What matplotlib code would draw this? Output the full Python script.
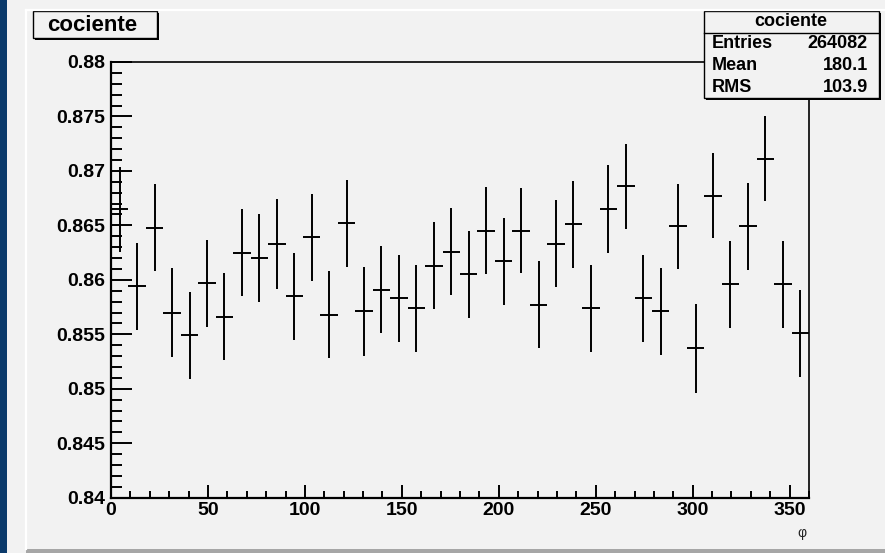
import matplotlib
matplotlib.use('Agg')
import matplotlib.pyplot as plt
import numpy as np
from matplotlib.patches import Rectangle
from matplotlib.lines import Line2D
from matplotlib.ticker import MultipleLocator, FixedLocator, FixedFormatter

plt.rcParams['font.family'] = ['Liberation Sans', 'DejaVu Sans']

# histogram "cociente": 40 bins of 9 degrees in phi
bin_edges = np.arange(0, 361, 9)
cociente = [0.8665, 0.8594, 0.8648, 0.8570, 0.8549, 0.8597, 0.8566, 0.8625, 0.8620, 0.8633,
            0.8585, 0.8639, 0.8568, 0.8652, 0.8571, 0.8591, 0.8583, 0.8574, 0.8613, 0.8626,
            0.8605, 0.8645, 0.8617, 0.8645, 0.8577, 0.8633, 0.8651, 0.8574, 0.8665, 0.8686,
            0.8583, 0.8571, 0.8649, 0.8537, 0.8677, 0.8596, 0.8649, 0.8711, 0.8596, 0.8551]
errores = [0.0039, 0.0040, 0.0040, 0.0041, 0.0040, 0.0040, 0.0040, 0.0040, 0.0040, 0.0041,
           0.0040, 0.0040, 0.0040, 0.0040, 0.0041, 0.0040, 0.0040, 0.0040, 0.0040, 0.0040,
           0.0040, 0.0040, 0.0040, 0.0039, 0.0040, 0.0040, 0.0040, 0.0040, 0.0040, 0.0039,
           0.0040, 0.0040, 0.0039, 0.0041, 0.0039, 0.0040, 0.0040, 0.0039, 0.0040, 0.0040]

ytick_vals = [0.84, 0.845, 0.85, 0.855, 0.86, 0.865, 0.87, 0.875, 0.88]
ytick_labels = ['0.84', '0.845', '0.85', '0.855', '0.86', '0.865', '0.87', '0.875', '0.88']
xtick_vals = [0, 50, 100, 150, 200, 250, 300, 350]
xtick_labels = ['0', '50', '100', '150', '200', '250', '300', '350']

stats_title = 'cociente'
stats_rows = [('Entries', '264082'), ('Mean', '180.1'), ('RMS', '103.9')]

W, H = 885, 553
bg = '#f2f2f2'

fig = plt.figure(figsize=(W / 100, H / 100), dpi=100, facecolor=bg)

def fx(px):
	return px / W

def fy(py):
	return 1 - py / H

# canvas decoration (ROOT style frame)
fig.add_artist(Rectangle((0, 0), fx(7), 1, transform=fig.transFigure, color='#0b3a6b', lw=0))
fig.add_artist(Line2D([fx(26), fx(26)], [fy(10), fy(549)], transform=fig.transFigure, color='white', lw=1.6))
fig.add_artist(Line2D([fx(26), 1], [fy(10), fy(10)], transform=fig.transFigure, color='white', lw=1.6))
fig.add_artist(Rectangle((fx(26), 0), 1 - fx(26), 4 / H, transform=fig.transFigure, color='#a6a6a6', lw=0))

ax = fig.add_axes([fx(111), fy(497.7), fx(809) - fx(111), fy(62) - fy(497.7)])
ax.set_facecolor(bg)

centers = (bin_edges[:-1] + bin_edges[1:]) / 2
ax.errorbar(centers, cociente, xerr=4.5, yerr=errores, fmt='none', ecolor='black',
			elinewidth=1.4, capsize=0)

ax.set_xlim(0, 360)
ax.set_ylim(0.84, 0.88)

ax.xaxis.set_major_locator(FixedLocator(xtick_vals))
ax.xaxis.set_major_formatter(FixedFormatter(xtick_labels))
ax.xaxis.set_minor_locator(MultipleLocator(10))
ax.yaxis.set_major_locator(FixedLocator(ytick_vals))
ax.yaxis.set_major_formatter(FixedFormatter(ytick_labels))
ax.yaxis.set_minor_locator(MultipleLocator(0.001))

ax.tick_params(axis='y', which='major', direction='in', length=15, width=1.4, pad=4,
			   labelsize=14, left=True, right=False)
ax.tick_params(axis='y', which='minor', direction='in', length=8, width=1.4, left=True, right=False)
ax.tick_params(axis='x', which='major', direction='in', length=9.5, width=1.4, pad=3,
			   labelsize=14, bottom=True, top=False)
ax.tick_params(axis='x', which='minor', direction='in', length=5, width=1.4, bottom=True, top=False)
for lab in ax.get_xticklabels() + ax.get_yticklabels():
	lab.set_fontweight('bold')

for side in ['left', 'bottom']:
	ax.spines[side].set_linewidth(1.6)
for side in ['top', 'right']:
	ax.spines[side].set_linewidth(1.2)

fig.text(fx(802), fy(533), 'φ', ha='center', va='center', fontsize=10, color='#222222')

# title box
fig.add_artist(Rectangle((fx(35), fy(40)), fx(124), 27 / H, transform=fig.transFigure,
						 facecolor='black', lw=0))
fig.add_artist(Rectangle((fx(33), fy(38)), fx(124), 27 / H, transform=fig.transFigure,
						 facecolor=bg, edgecolor='black', lw=1.0))
fig.text(fx(92), fy(25.5), 'cociente', ha='center', va='center', fontsize=16, fontweight='bold')

# stats box
fig.add_artist(Rectangle((fx(706), fy(100)), fx(175), 87 / H, transform=fig.transFigure,
						 facecolor='black', lw=0))
fig.add_artist(Rectangle((fx(704), fy(98)), fx(175), 87 / H, transform=fig.transFigure,
						 facecolor=bg, edgecolor='black', lw=1.0))
fig.add_artist(Line2D([fx(704), fx(879)], [fy(32.5), fy(32.5)], transform=fig.transFigure,
					  color='black', lw=1.0))
fig.text(fx(791), fy(21), stats_title, ha='center', va='center', fontsize=13, fontweight='bold')
for i, (name, val) in enumerate(stats_rows):
	yy = fy(43 + i * 22)
	fig.text(fx(712), yy, name, ha='left', va='center', fontsize=13, fontweight='bold')
	fig.text(fx(868), yy, val, ha='right', va='center', fontsize=13, fontweight='bold')

fig.savefig('out.png', dpi=100, facecolor=bg)
